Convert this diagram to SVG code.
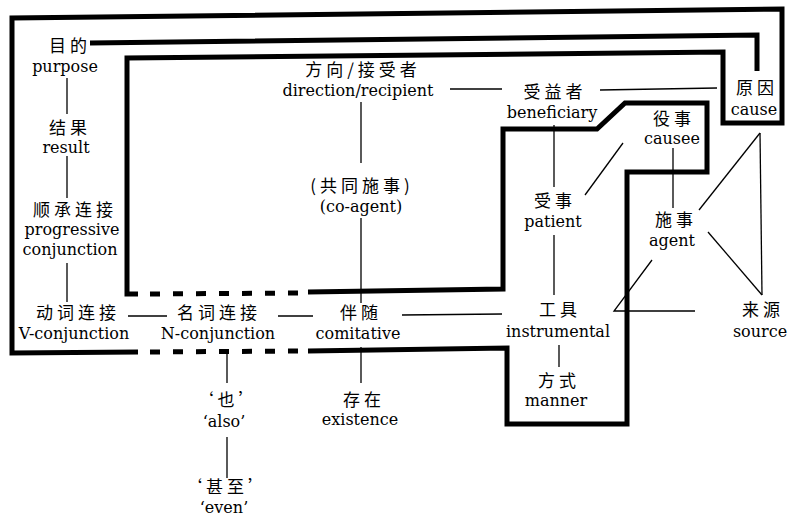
<svg xmlns="http://www.w3.org/2000/svg" width="788" height="525" viewBox="0 0 788 525">
<style>
.thick{fill:none;stroke:#000;stroke-width:5;stroke-linejoin:miter;stroke-linecap:butt}
.dash{fill:none;stroke:#000;stroke-width:5;stroke-dasharray:10 13}
.thin{fill:none;stroke:#000;stroke-width:1.3}
.cn{font-family:"Noto Sans CJK SC",sans-serif;font-size:17px;letter-spacing:4px;text-anchor:middle;fill:#000}
.en{font-family:"DejaVu Serif","Liberation Serif",serif;font-size:16px;text-anchor:middle;fill:#000}
</style>
<rect width="788" height="525" fill="#fff"/>
<g id="boundaries">
<path class="thick" d="M138,294 L127,294 L127,58 L723,52 L723,123 L782,123 L782,9 L12,18 L12,353 L138,352"/>
<path class="thick" d="M308,351 L507,348 L507,424 L627,424 L627,172 L707,172 L707,103 L625,103 L597,129 L503,129 L503,289 L308,292"/>
<path class="dash" d="M150,294 L298,293"/>
<path class="dash" d="M150,352 L298,351"/>
<path class="thick" d="M90,43 L757,35 L757,71"/>
</g>
<g id="connectors">
<line class="thin" x1="67" y1="78" x2="67" y2="114"/>
<line class="thin" x1="67" y1="156" x2="67" y2="198"/>
<line class="thin" x1="67" y1="263" x2="67" y2="302"/>
<line class="thin" x1="128" y1="316" x2="167" y2="316"/>
<line class="thin" x1="278" y1="316" x2="313" y2="316"/>
<line class="thin" x1="402" y1="315" x2="502" y2="314"/>
<line class="thin" x1="361" y1="102" x2="361" y2="163"/>
<line class="thin" x1="361" y1="218" x2="361" y2="303"/>
<line class="thin" x1="361" y1="347" x2="361" y2="383"/>
<line class="thin" x1="227" y1="349" x2="227" y2="383"/>
<line class="thin" x1="227" y1="437" x2="227" y2="478"/>
<line class="thin" x1="450" y1="89" x2="502" y2="89"/>
<line class="thin" x1="600" y1="90" x2="717" y2="88"/>
<line class="thin" x1="554" y1="125" x2="554" y2="187"/>
<line class="thin" x1="554" y1="235" x2="554" y2="295"/>
<line class="thin" x1="585" y1="195" x2="623" y2="143"/>
<line class="thin" x1="673" y1="148" x2="673" y2="208"/>
<line class="thin" x1="699" y1="210" x2="760" y2="133"/>
<line class="thin" x1="760" y1="133" x2="762" y2="295"/>
<line class="thin" x1="708" y1="232" x2="762" y2="295"/>
<line class="thin" x1="559" y1="345" x2="559" y2="367"/>
<path class="thin" d="M652,260 L614,311 L695,311"/>
</g>
<g id="purpose"><text class="cn" x="70" y="52">目的</text><text class="en" x="65" y="72">purpose</text></g>
<g id="result"><text class="cn" x="70" y="134">结果</text><text class="en" x="66" y="153">result</text></g>
<g id="progressive"><text class="cn" x="75" y="216">顺承连接</text><text class="en" x="72" y="235">progressive</text><text class="en" x="70" y="255">conjunction</text></g>
<g id="v-conjunction"><text class="cn" x="78" y="319">动词连接</text><text class="en" x="74" y="339">V-conjunction</text></g>
<g id="n-conjunction"><text class="cn" x="219" y="319">名词连接</text><text class="en" x="218" y="339">N-conjunction</text></g>
<g id="comitative"><text class="cn" x="361" y="319">伴随</text><text class="en" x="358" y="339">comitative</text></g>
<g id="direction"><text class="cn" x="363" y="76">方向/接受者</text><text class="en" x="358" y="96">direction/recipient</text></g>
<g id="co-agent"><text class="cn" x="362" y="192">(共同施事)</text><text class="en" x="361" y="212">(co-agent)</text></g>
<g id="beneficiary"><text class="cn" x="555" y="98">受益者</text><text class="en" x="552" y="118">beneficiary</text></g>
<g id="cause"><text class="cn" x="757" y="94">原因</text><text class="en" x="754" y="115">cause</text></g>
<g id="causee"><text class="cn" x="674" y="125">役事</text><text class="en" x="672" y="144">causee</text></g>
<g id="patient"><text class="cn" x="555" y="207">受事</text><text class="en" x="553" y="227">patient</text></g>
<g id="agent"><text class="cn" x="676" y="226">施事</text><text class="en" x="672" y="246">agent</text></g>
<g id="instrumental"><text class="cn" x="560" y="316">工具</text><text class="en" x="558" y="337">instrumental</text></g>
<g id="source"><text class="cn" x="763" y="316">来源</text><text class="en" x="760" y="337">source</text></g>
<g id="manner"><text class="cn" x="559" y="387">方式</text><text class="en" x="556" y="406">manner</text></g>
<g id="existence"><text class="cn" x="364" y="406">存在</text><text class="en" x="360" y="425">existence</text></g>
<g id="also"><text class="cn" x="228" y="406">‘也’</text><text class="en" x="224" y="427">‘also’</text></g>
<g id="even"><text class="cn" x="227" y="493">‘甚至’</text><text class="en" x="224" y="513">‘even’</text></g>
</svg>
